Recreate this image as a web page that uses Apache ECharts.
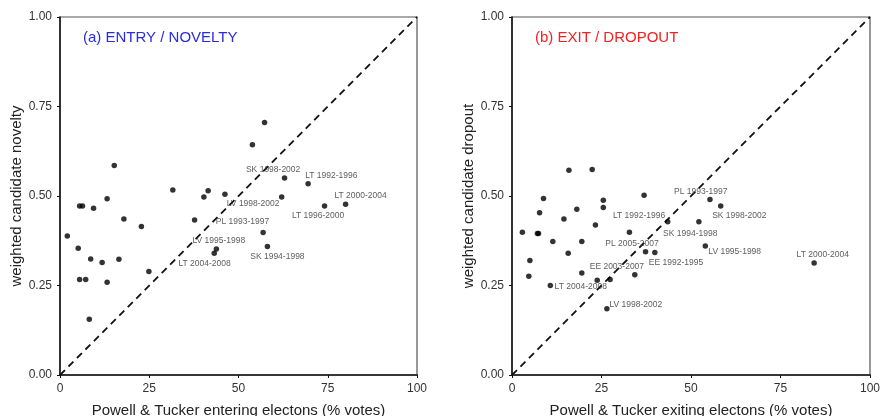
<!DOCTYPE html>
<html>
<head>
<meta charset="utf-8">
<script src="https://cdn.jsdelivr.net/npm/echarts@6/dist/echarts.min.js"></script>
<style>html,body{margin:0;padding:0;background:#fff}#c{width:880px;height:416px}</style>
</head>
<body>
<div id="c"></div>
<script>
// Panel (a) entry / novelty
var entryX = [2.05,5.1,5.5,6.3,5.5,7.2,8.2,8.6,9.4,11.8,13.2,13.2,15.2,16.5,17.9,22.8,24.9,31.6,37.7,40.3,41.5,46.2,43.2,43.8,53.9,57.3,56.9,58.1,62.1,62.9,69.5,74.1,80.0];
var entryY = [0.388,0.354,0.472,0.472,0.267,0.267,0.156,0.324,0.466,0.314,0.492,0.259,0.585,0.323,0.436,0.415,0.289,0.517,0.433,0.497,0.515,0.505,0.340,0.352,0.643,0.705,0.398,0.359,0.497,0.550,0.534,0.472,0.477];
var entryLabels = ["SK 1998-2002","LT 1992-1996","LT 2000-2004","LV 1998-2002","LT 1996-2000","PL 1993-1997","LV 1995-1998","LT 2004-2008","SK 1994-1998"];
var entryLabelX = [59.7,76.0,84.2,54.1,72.3,51.1,44.5,40.5,60.9];
var entryLabelY = [0.574,0.558,0.500,0.479,0.445,0.427,0.376,0.311,0.331];

// Panel (b) exit / dropout
var exitX = [2.9,5.0,4.7,7.1,7.4,7.7,8.8,10.7,11.4,14.5,15.9,15.7,18.1,19.5,19.5,22.4,23.3,23.8,25.5,25.5,26.5,27.4,32.8,34.3,36.9,37.3,39.9,43.5,52.2,54.0,55.3,58.3,84.4];
var exitY = [0.399,0.320,0.276,0.395,0.395,0.453,0.493,0.250,0.373,0.436,0.572,0.340,0.463,0.373,0.285,0.574,0.419,0.265,0.488,0.468,0.185,0.267,0.399,0.280,0.502,0.344,0.342,0.428,0.428,0.360,0.490,0.472,0.313];
var exitLabels = ["PL 1993-1997","SK 1998-2002","LT 1992-1996","SK 1994-1998","PL 2005-2007","LV 1995-1998","EE 1992-1995","LT 2000-2004","EE 2003-2007","LT 2004-2008","LV 1998-2002"];
var exitLabelX = [52.7,63.5,35.5,49.8,33.5,62.2,45.8,86.8,29.3,19.2,34.6];
var exitLabelY = [0.513,0.445,0.445,0.395,0.367,0.344,0.314,0.337,0.304,0.246,0.196];

var xTicks = [0,25,50,75,100];
var yTicks = [0,0.25,0.5,0.75,1];
var diag = [[0,0],[100,1]];

function zip(a,b){return a.map(function(v,i){return [v,b[i]];});}
function zipL(a,b,n){return a.map(function(v,i){return {value:[v,b[i]],name:n[i]};});}

var FONT = "Liberation Sans";
function xAxis(idx,name){
  return {type:'value',gridIndex:idx,min:0,max:100,interval:25,name:name,nameLocation:'middle',nameGap:28,
    nameTextStyle:{fontFamily:FONT,fontSize:15,color:'#222'},
    axisLine:{show:true,onZero:false,lineStyle:{color:'#111',width:1.5}},
    axisTick:{show:true,length:3,lineStyle:{color:'#111'}},
    axisLabel:{fontFamily:FONT,fontSize:12,color:'#333',margin:8},
    splitLine:{show:false}};
}
function yAxis(idx,name){
  return {type:'value',gridIndex:idx,min:0,max:1,interval:0.25,name:name,nameLocation:'middle',nameGap:32,
    nameTextStyle:{fontFamily:FONT,fontSize:15,color:'#222'},
    axisLine:{show:true,onZero:false,lineStyle:{color:'#111',width:1.5}},
    axisTick:{show:true,length:3,lineStyle:{color:'#111'}},
    axisLabel:{fontFamily:FONT,fontSize:12,color:'#333',margin:8,formatter:function(v){return v.toFixed(2);}},
    splitLine:{show:false}};
}
function pts(idx,data){
  return {type:'scatter',xAxisIndex:idx,yAxisIndex:idx,data:data,symbolSize:5.5,itemStyle:{color:'#000'},silent:true,z:3};
}
function labs(idx,data){
  return {type:'scatter',xAxisIndex:idx,yAxisIndex:idx,data:data,symbolSize:0,silent:true,z:4,
    label:{show:true,position:'inside',formatter:'{b}',fontFamily:FONT,fontSize:8.5,color:'#333'}};
}
function line(idx){
  return {type:'line',xAxisIndex:idx,yAxisIndex:idx,data:diag,symbol:'none',silent:true,z:2,
    lineStyle:{color:'#111',width:1.8,type:[7,5]}};
}

var chart = echarts.init(document.getElementById('c'),null,{renderer:'canvas'});
chart.setOption({
  animation:false,
  backgroundColor:'#fff',
  title:[
    {text:'(a) ENTRY / NOVELTY',left:78,top:25,textStyle:{fontFamily:FONT,fontSize:15,fontWeight:'normal',color:'#2a2ae0'}},
    {text:'(b) EXIT / DROPOUT',left:530,top:25,textStyle:{fontFamily:FONT,fontSize:15,fontWeight:'normal',color:'#f52020'}}
  ],
  grid:[
    {left:60,top:17,width:357,height:358,show:true,borderColor:'#555',borderWidth:1.2,backgroundColor:'transparent',outerBoundsMode:'none',containLabel:false},
    {left:512,top:17,width:358,height:358,show:true,borderColor:'#555',borderWidth:1.2,backgroundColor:'transparent',outerBoundsMode:'none',containLabel:false}
  ],
  xAxis:[xAxis(0,'Powell & Tucker entering electons (% votes)'),xAxis(1,'Powell & Tucker exiting electons (% votes)')],
  yAxis:[yAxis(0,'weighted candidate novelty'),yAxis(1,'weighted candidate dropout')],
  series:[
    line(0),pts(0,zip(entryX,entryY)),labs(0,zipL(entryLabelX,entryLabelY,entryLabels)),
    line(1),pts(1,zip(exitX,exitY)),labs(1,zipL(exitLabelX,exitLabelY,exitLabels))
  ]
});
</script>
</body>
</html>
